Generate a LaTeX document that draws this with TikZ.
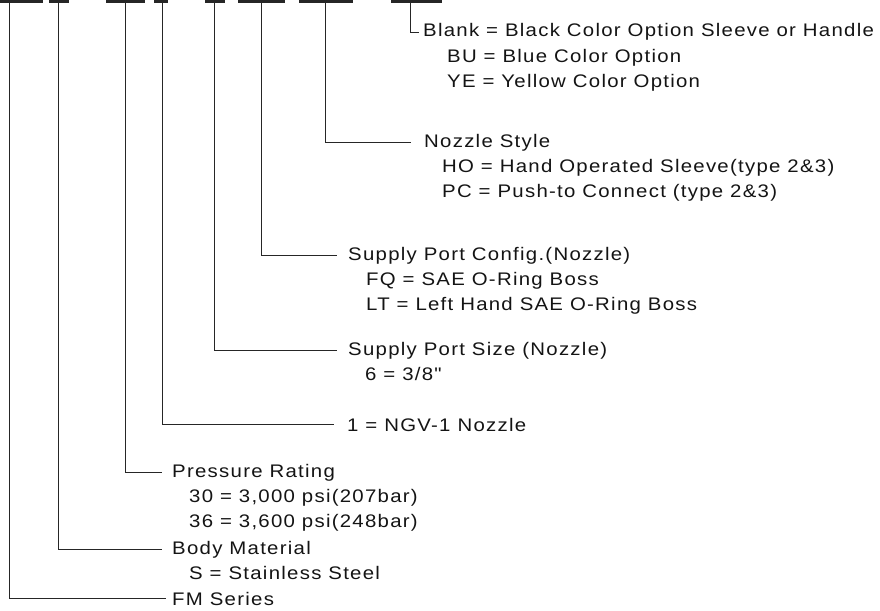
\documentclass[tikz,border=0pt]{standalone}
\usepackage{fontspec}
\setmainfont{Liberation Sans}[FakeStretch=1.12, LetterSpace=7, Ligatures=TeXOff]
\usetikzlibrary{positioning}

\begin{document}
\begin{tikzpicture}[x=1pt, y=-1pt,
  title/.style={inner sep=0pt, anchor=base west, font=\fontsize{18.2}{25}\selectfont, text=black!92},
  opts/.style={inner sep=0pt, align=left, font=\fontsize{18.2}{25}\selectfont, text=black!92},
  lead/.style={draw=black!85, line width=0.9pt, shorten >=10pt},
  bar/.style={draw=black!85, line width=3pt}]
  \useasboundingbox (0,0) rectangle (880,610);

  % code segments
  \draw[bar] (0,1.5) -- (43,1.5);
  \draw[bar] (49,1.5) -- (69,1.5);
  \draw[bar] (106,1.5) -- (145,1.5);
  \draw[bar] (154,1.5) -- (168,1.5);
  \draw[bar] (205,1.5) -- (225,1.5);
  \draw[bar] (238,1.5) -- (285,1.5);
  \draw[bar] (299,1.5) -- (353,1.5);
  \draw[bar] (391,1.5) -- (442,1.5);

  \coordinate (c1) at (9,3);
  \coordinate (c2) at (58,3);
  \coordinate (c3) at (125,3);
  \coordinate (c4) at (162,3);
  \coordinate (c5) at (214,3);
  \coordinate (c6) at (261,3);
  \coordinate (c7) at (325,3);
  \coordinate (c8) at (410,3);

  % labels
  \node[title] (color) at (423,37) {Blank = Black Color Option Sleeve or Handle};
  \node[opts, below right=11.75pt and 24pt of color.base west] (coloropt) {BU = Blue Color Option\\YE = Yellow Color Option};

  \node[title] (style) at (424,147) {Nozzle Style};
  \node[opts, below right=11.75pt and 18pt of style.base west] (styleopt) {HO = Hand Operated Sleeve(type 2\&3)\\PC = Push-to Connect (type 2\&3)};

  \node[title] (config) at (348,260) {Supply Port Config.(Nozzle)};
  \node[opts, below right=11.75pt and 18pt of config.base west] (configopt) {FQ = SAE O-Ring Boss\\LT = Left Hand SAE O-Ring Boss};

  \node[title] (size) at (348,355) {Supply Port Size (Nozzle)};
  \node[opts, below right=11.75pt and 17pt of size.base west] (sizeopt) {6 = 3/8"};

  \node[title] (nozzle) at (347,431) {1 = NGV-1 Nozzle};

  \node[title] (pressure) at (172,477) {Pressure Rating};
  \node[opts, below right=11.75pt and 17pt of pressure.base west] (pressureopt) {30 = 3,000 psi(207bar)\\36 = 3,600 psi(248bar)};

  \node[title] (body) at (172,554) {Body Material};
  \node[opts, below right=11.75pt and 17pt of body.base west] (bodyopt) {S = Stainless Steel};

  \node[title] (series) at (172,605) {FM Series};

  % leaders
  \draw[lead, shorten >=4pt] (c8) |- (color.west);
  \draw[lead, shorten >=13pt] (c7) |- (style.west);
  \draw[lead, shorten >=11pt] (c6) |- (config.west);
  \draw[lead, shorten >=11pt] (c5) |- (size.west);
  \draw[lead, shorten >=13pt] (c4) |- (nozzle.west);
  \draw[lead] (c3) |- (pressure.west);
  \draw[lead] (c2) |- (body.west);
  \draw[lead, shorten >=6pt] (c1) |- (series.west);
\end{tikzpicture}
\end{document}
